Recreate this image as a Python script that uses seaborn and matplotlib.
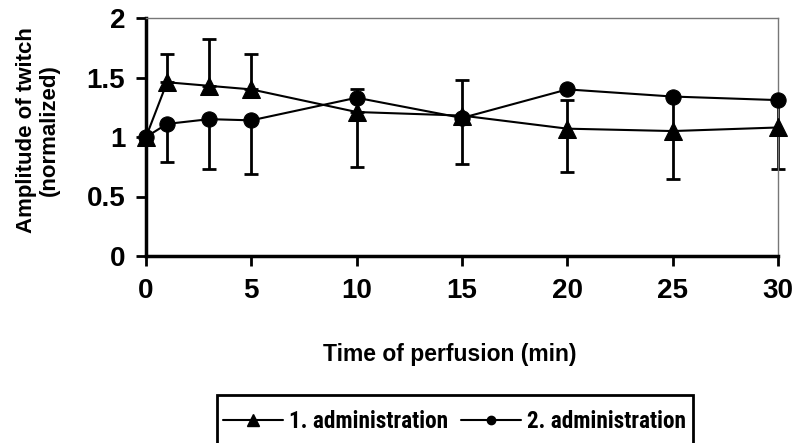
import matplotlib
matplotlib.use("Agg")
import matplotlib.pyplot as plt
import seaborn as sns
import pandas as pd
from matplotlib.lines import Line2D
from matplotlib.patches import Rectangle
from matplotlib import font_manager as fm

sns.set_theme(style="white")
plt.rcParams['font.family'] = ['Liberation Sans', 'DejaVu Sans']

time_min = [0, 1, 3, 5, 10, 15, 20, 25, 30]
adm1_mean = [1.00, 1.46, 1.43, 1.40, 1.21, 1.18, 1.07, 1.05, 1.08]
adm1_err_up = [0, 0.24, 0.39, 0.30, 0, 0.30, 0.24, 0.29, 0.23]
adm1_err_dn = [0, 0, 0, 0, 0.46, 0, 0.36, 0.40, 0.35]
adm2_mean = [1.00, 1.11, 1.15, 1.14, 1.33, 1.16, 1.40, 1.34, 1.31]
adm2_err_up = [0, 0, 0, 0, 0.07, 0, 0, 0, 0]
adm2_err_dn = [0, 0.32, 0.42, 0.45, 0, 0.39, 0, 0, 0]
labels = ["1. administration", "2. administration"]
x_ticks = [0, 5, 10, 15, 20, 25, 30]
y_ticks = [0, 0.5, 1, 1.5, 2]
y_ticklabels = ["0", "0.5", "1", "1.5", "2"]


def _w(f):
    w = f.weight
    if isinstance(w, str):
        return {'bold': 700, 'heavy': 800, 'black': 900, 'semibold': 600,
                'demibold': 600, 'extra bold': 800}.get(w.lower(), 400)
    return w


# pick a condensed sans family with a bold face for the legend, if one is installed
bold_families = {f.name for f in fm.fontManager.ttflist if 650 <= _w(f) <= 800}
candidates = ['Liberation Sans Narrow', 'Arial Narrow', 'Archivo Narrow', 'Roboto Condensed',
              'PT Sans Narrow', 'Fira Sans Condensed', 'IBM Plex Sans Condensed',
              'Encode Sans Condensed', 'Barlow Semi Condensed', 'Pragati Narrow',
              'Fira Sans Extra Condensed', 'Barlow Condensed', 'Open Sans Condensed']
leg_family = next((c for c in candidates if c in bold_families), 'Liberation Sans')

df1 = pd.DataFrame({"t": time_min, "v": adm1_mean})
df2 = pd.DataFrame({"t": time_min, "v": adm2_mean})

W, H = 795, 443
fig = plt.figure(figsize=(W/100, H/100), dpi=100)
ax = fig.add_axes([146/W, 1-256/H, (778-146)/W, (256-18)/H])

for m, dn, up in [(adm1_mean, adm1_err_dn, adm1_err_up), (adm2_mean, adm2_err_dn, adm2_err_up)]:
    eb = ax.errorbar(time_min, m, yerr=[dn, up], fmt='none', ecolor='black',
                     elinewidth=2, capsize=5, capthick=2, zorder=2)
    for art in eb.lines[1] + eb.lines[2]:
        art.set_clip_on(False)

sns.lineplot(data=df1, x="t", y="v", ax=ax, color='black', linewidth=1.5,
             marker='^', markersize=13, markeredgecolor='black', zorder=3, clip_on=False)
sns.lineplot(data=df2, x="t", y="v", ax=ax, color='black', linewidth=1.5,
             marker='o', markersize=11, markeredgecolor='black', zorder=3, clip_on=False)

ax.set_xlim(0, 30)
ax.set_ylim(0, 2)
ax.set_xticks(x_ticks)
ax.set_yticks(y_ticks)
ax.set_yticklabels(y_ticklabels)
ax.tick_params(axis='x', labelsize=20, length=7, width=2, direction='out',
               color='black', bottom=True, pad=9)
ax.tick_params(axis='y', labelsize=20, length=7, width=2, direction='out',
               color='black', left=True, pad=8)
for lab in ax.get_xticklabels() + ax.get_yticklabels():
    lab.set_fontweight('bold')
    lab.set_color('black')
for s in ['left', 'bottom']:
    ax.spines[s].set_linewidth(2.5)
    ax.spines[s].set_color('black')
for s in ['top', 'right']:
    ax.spines[s].set_linewidth(1)
    ax.spines[s].set_color('#777777')
ax.grid(False)

ax.set_xlabel("Time of perfusion (min)", fontsize=16.5, fontweight='bold', color='black')
ax.xaxis.set_label_coords((449.5-146)/632, (256-343)/238)
ax.xaxis.label.set_va('top')
ax.set_ylabel("Amplitude of twitch\n(normalized)", fontsize=16, fontweight='bold',
              color='black', linespacing=1.15)
ax.yaxis.set_label_coords((60-146)/632, (256-130)/238)

# size the legend font so that a label is about 159 px wide
renderer = fig.canvas.get_renderer()
probe = fig.text(0, 0, labels[0], fontsize=20, fontweight='bold', family=[leg_family, 'DejaVu Sans'])
w20 = probe.get_window_extent(renderer).width
probe.remove()
leg_fs = min(20 * 159 / w20, 20)
em = leg_fs * 100 / 72

handles = [Line2D([], [], color='black', linewidth=1.5, marker='^', markersize=9),
           Line2D([], [], color='black', linewidth=1.5, marker='o', markersize=6)]
leg = fig.legend(handles, labels, loc='center left', bbox_to_anchor=(223/W, 1-422/H),
                 ncol=2, frameon=False,
                 prop={'family': [leg_family, 'DejaVu Sans'], 'weight': 'bold', 'size': leg_fs},
                 handlelength=60/em, handletextpad=6/em, columnspacing=13/em,
                 borderpad=0, borderaxespad=0)
for t in leg.get_texts():
    t.set_color('black')
fig.patches.append(Rectangle((217/W, -0.05), (693-217)/W, (1-395/H)+0.05,
                             transform=fig.transFigure, fill=False,
                             edgecolor='black', linewidth=2))

fig.savefig("out.png", dpi=100)
